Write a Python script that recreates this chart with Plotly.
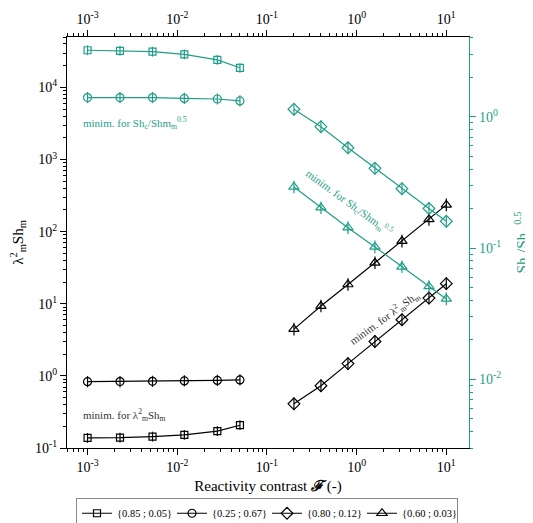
import plotly.graph_objects as go
import math

# ---------------- data ----------------
x_low = [0.001, 0.0023, 0.0053, 0.012, 0.028, 0.05]
x_high = [0.2, 0.4, 0.8, 1.6, 3.2, 6.4, 10]

# lambda_m^2 Sh_m (left axis, black)
lam_sq = [0.138, 0.139, 0.144, 0.152, 0.171, 0.207]
lam_ci = [0.83, 0.835, 0.84, 0.85, 0.865, 0.88]
lam_di = [0.41, 0.73, 1.48, 3.0, 6.0, 12.0, 19.0]
lam_tr = [4.45, 9.3, 18.5, 37.0, 74.0, 148.0, 235.0]

# Sh_c / Sh_m^0.5 (right axis, teal)
sh_sq = [3.21, 3.18, 3.13, 2.99, 2.71, 2.36]
sh_ci = [1.40, 1.40, 1.40, 1.38, 1.365, 1.32]
sh_di = [1.14, 0.84, 0.58, 0.405, 0.283, 0.20, 0.16]
sh_tr = [0.292, 0.203, 0.143, 0.102, 0.072, 0.051, 0.041]

legend_names = ["{0.85 ; 0.05}", "{0.25 ; 0.67}", "{0.80 ; 0.12}", "{0.60 ; 0.03}"]

x_ticks = [1e-3, 1e-2, 1e-1, 1e0, 1e1]
x_ticktext = ["10<sup>-3</sup>", "10<sup>-2</sup>", "10<sup>-1</sup>", "10<sup>0</sup>", "10<sup>1</sup>"]
yl_ticks = [1e-1, 1e0, 1e1, 1e2, 1e3, 1e4]
yl_ticktext = ["10<sup>-1</sup>", "10<sup>0</sup>", "10<sup>1</sup>", "10<sup>2</sup>", "10<sup>3</sup>", "10<sup>4</sup>"]
yr_ticks = [1e-2, 1e-1, 1e0]
yr_ticktext = ["10<sup>-2</sup>", "10<sup>-1</sup>", "10<sup>0</sup>"]

# ---------------- style ----------------
BLACK = "#000000"
TEAL = "#1f9e88"
FONT = "Liberation Serif"


def minor_vals(lo, hi):
    out = []
    for e in range(lo, hi + 1):
        for m in range(2, 10):
            out.append(m * 10 ** e)
    return out


fig = go.Figure()

series = [
    (x_low, lam_sq, sh_sq, "square-open", 7),
    (x_low, lam_ci, sh_ci, "circle-open", 8),
    (x_high, lam_di, sh_di, "diamond-open", 9),
    (x_high, lam_tr, sh_tr, "triangle-up-open", 9),
]

for i, (xs, yl, yr, sym, sz) in enumerate(series):
    # teal, right axis (drawn on the top x axis, same range)
    fig.add_trace(go.Scatter(
        x=xs, y=yr, xaxis="x2", yaxis="y2", mode="lines+markers", showlegend=False,
        line=dict(color=TEAL, width=1.2),
        marker=dict(symbol=sym, size=sz, color=TEAL, line=dict(color=TEAL, width=1.2)),
    ))
    fig.add_trace(go.Scatter(
        x=xs, y=yr, xaxis="x2", yaxis="y2", mode="markers", showlegend=False,
        marker=dict(symbol="line-ns", size=sz, color=TEAL, line=dict(color=TEAL, width=1.2)),
    ))
    # black, left axis
    fig.add_trace(go.Scatter(
        x=xs, y=yl, yaxis="y", mode="lines+markers", name=legend_names[i],
        line=dict(color=BLACK, width=1.2),
        marker=dict(symbol=sym, size=sz, color=BLACK, line=dict(color=BLACK, width=1.2)),
    ))
    fig.add_trace(go.Scatter(
        x=xs, y=yl, yaxis="y", mode="markers", showlegend=False,
        marker=dict(symbol="line-ns", size=sz, color=BLACK, line=dict(color=BLACK, width=1.2)),
    ))

xrange = [math.log10(5.9e-4), math.log10(17.9)]

common_x = dict(
    type="log", range=xrange, showgrid=False, zeroline=False, automargin=False,
    showline=True, linecolor=BLACK, linewidth=1.3,
    ticks="outside", ticklen=6, tickwidth=1, tickcolor=BLACK,
    tickvals=x_ticks, ticktext=x_ticktext,
    tickfont=dict(family=FONT, size=14, color=BLACK),
    minor=dict(ticks="outside", ticklen=3, tickwidth=1, tickcolor=BLACK,
               tickvals=minor_vals(-4, 1), showgrid=False),
)

# the page body adds an 8 px offset, so the figure is 8 px smaller than the window
fig.update_layout(
    width=525, height=515,
    margin=dict(l=59, r=64, t=29, b=75, autoexpand=False),
    paper_bgcolor="white", plot_bgcolor="white",
    font=dict(family=FONT, size=13, color=BLACK),
    xaxis=dict(
        **common_x,
        title=dict(text="Reactivity contrast <b><i>ℱ</i></b> (-)", font=dict(family=FONT, size=15, color=BLACK),
                   standoff=6),
    ),
    xaxis2=dict(**common_x, overlaying="x", side="top", anchor="y2"),
    yaxis=dict(
        type="log", range=[-1, math.log10(5e4)], showgrid=False, zeroline=False, automargin=False,
        showline=True, linecolor=BLACK, linewidth=1.3,
        ticks="outside", ticklen=6, tickwidth=1, tickcolor=BLACK,
        tickvals=yl_ticks, ticktext=yl_ticktext,
        tickfont=dict(family=FONT, size=14, color=BLACK),
        minor=dict(ticks="outside", ticklen=3, tickwidth=1, tickcolor=BLACK,
                   tickvals=minor_vals(-1, 4), showgrid=False),
        title=dict(text="λ<sup>2</sup><sub>m</sub>Sh<sub>m</sub>", font=dict(family=FONT, size=15, color=BLACK),
                   standoff=12),
    ),
    yaxis2=dict(
        type="log", range=[math.log10(0.003), math.log10(4.05)], overlaying="y", side="right",
        anchor="x", automargin=False,
        showgrid=False, zeroline=False,
        showline=True, linecolor=TEAL, linewidth=1.3,
        ticks="outside", ticklen=6, tickwidth=1, tickcolor=TEAL,
        tickvals=yr_ticks, ticktext=yr_ticktext,
        tickfont=dict(family=FONT, size=14, color=TEAL),
        minor=dict(ticks="outside", ticklen=3, tickwidth=1, tickcolor=TEAL,
                   tickvals=minor_vals(-3, 0), showgrid=False),
        title=dict(text="Sh<sub>c</sub>/Sh<sub>m</sub><sup>0.5</sup>", font=dict(family=FONT, size=15, color=TEAL),
                   standoff=16),
    ),
    showlegend=True,
    legend=dict(
        orientation="h", x=0.4975, xanchor="center", y=-0.121, yanchor="top",
        yref="paper", xref="paper",
        bordercolor="#888888", borderwidth=1, bgcolor="white",
        font=dict(family=FONT, size=10.5, color=BLACK),
        itemwidth=30, entrywidth=50, entrywidthmode="pixels", tracegroupgap=0,
    ),
)

ann_font_t = dict(family=FONT, size=11, color=TEAL)
ann_font_k = dict(family=FONT, size=11, color="#333333")

fig.add_annotation(x=math.log10(0.00336), y=0.815, xref="x", yref="paper",
                   text="minim. for Sh<sub>c</sub>/Shm<sub>m</sub><sup>0.5</sup>", showarrow=False,
                   font=ann_font_t)
fig.add_annotation(x=math.log10(0.0026), y=0.056, xref="x", yref="paper",
                   text="minim. for λ<sup>2</sup><sub>m</sub>Sh<sub>m</sub>", showarrow=False,
                   font=ann_font_k)
fig.add_annotation(x=math.log10(0.83), y=0.596, xref="x", yref="paper",
                   text="minim. for Sh<sub>c</sub>/Shm<sub>m</sub><sup>0.5</sup>", showarrow=False,
                   textangle=36, font=ann_font_t)
fig.add_annotation(x=math.log10(2.05), y=0.235, xref="x", yref="paper",
                   text="minim. for λ<sup>2</sup><sub>m</sub>Sh<sub>m</sub>", showarrow=False,
                   textangle=-36, font=ann_font_k)

fig.write_html("out.html")
